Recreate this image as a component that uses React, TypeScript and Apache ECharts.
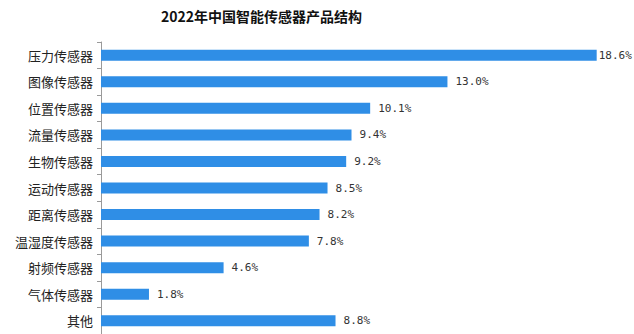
import React, { useEffect, useRef } from "react";
import * as echarts from "echarts";

const categories = [
  "压力传感器",
  "图像传感器",
  "位置传感器",
  "流量传感器",
  "生物传感器",
  "运动传感器",
  "距离传感器",
  "温湿度传感器",
  "射频传感器",
  "气体传感器",
  "其他",
];
const values = [18.6, 13.0, 10.1, 9.4, 9.2, 8.5, 8.2, 7.8, 4.6, 1.8, 8.8];
const titleText = "2022年中国智能传感器产品结构";

export default function App() {
  const ref = useRef<HTMLDivElement>(null);
  useEffect(() => {
    if (!ref.current) return;
    const chart = echarts.init(ref.current, undefined, { renderer: "svg" });
    chart.setOption({
      animation: false,
      backgroundColor: "#ffffff",
      title: {
        text: titleText,
        left: 156,
        top: 4,
        textStyle: {
          fontSize: 14,
          fontWeight: "bold",
          color: "#111",
          fontFamily: "Noto Sans CJK SC",
        },
      },
      grid: { left: 101, top: 42, width: 533, height: 293, containLabel: false },
      xAxis: {
        type: "value",
        min: 0,
        max: 20,
        show: false,
      },
      yAxis: {
        type: "category",
        inverse: true,
        data: categories,
        axisLine: { show: true, lineStyle: { color: "#9a9a9a", width: 1 } },
        axisTick: { show: true, length: 4, lineStyle: { color: "#9a9a9a" } },
        axisLabel: {
          margin: 8,
          fontSize: 13,
          color: "#222",
          fontFamily: "Noto Sans CJK SC",
        },
      },
      series: [
        {
          type: "bar",
          barWidth: 11,
          data: values.map((v, i) =>
            i === 0 ? { value: v, label: { distance: 2 } } : v
          ),
          itemStyle: { color: "#2F8EE6" },
          label: {
            show: true,
            position: "right",
            distance: 8,
            fontSize: 11,
            color: "#333",
            fontFamily: "DejaVu Sans Mono",
            formatter: (p: any) => p.value.toFixed(1) + "%",
          },
        },
      ],
    });
    return () => chart.dispose();
  }, []);
  return (
    <div
      ref={ref}
      style={{ position: "fixed", left: 0, top: 0, width: 634, height: 334 }}
    />
  );
}
